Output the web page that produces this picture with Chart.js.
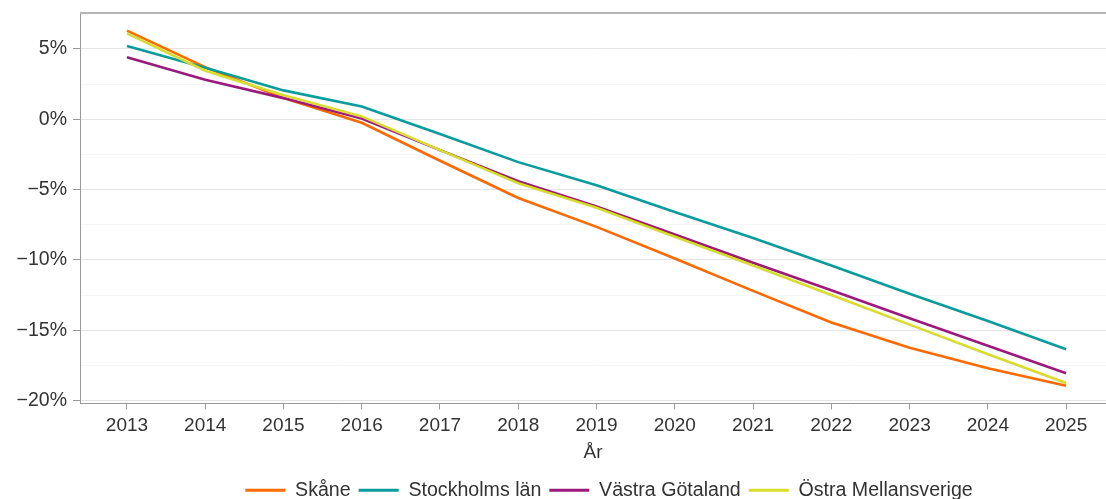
<!DOCTYPE html>
<html>
<head>
<meta charset="utf-8">
<script src="https://cdn.jsdelivr.net/npm/chart.js@4/dist/chart.umd.min.js"></script>
<style>
  html, body { margin: 0; padding: 0; background: #fff; }
  #wrap { position: relative; width: 1106px; height: 499px; }
</style>
</head>
<body>
<div id="wrap"><canvas id="c"></canvas></div>
<script>
  /* ---- data (percent) ---- */
  var years = [2013, 2014, 2015, 2016, 2017, 2018, 2019, 2020, 2021, 2022, 2023, 2024, 2025];
  var skane =     [6.3, 3.7, 1.5, -0.25, -2.95, -5.6, -7.65, -9.9, -12.2, -14.45, -16.25, -17.7, -18.95];
  var stockholm = [5.2, 3.65, 2.05, 0.9, -1.05, -3.05, -4.7, -6.6, -8.45, -10.4, -12.4, -14.35, -16.35];
  var vastra =    [4.4, 2.8, 1.5, 0.05, -2.2, -4.4, -6.2, -8.2, -10.2, -12.15, -14.15, -16.1, -18.05];
  var ostra =     [6.1, 3.45, 1.7, 0.2, -2.2, -4.55, -6.3, -8.35, -10.4, -12.5, -14.6, -16.7, -18.75];
  var seriesNames = ["Skåne", "Stockholms län", "Västra Götaland", "Östra Mellansverige"];
  var xTitle = "År";

  /* ---- style ---- */
  var COLORS = ["#ff6a00", "#0a9c9c", "#9b1a7c", "#d8dc2c"];
  var FONT = "'Liberation Sans', Arial, sans-serif";
  var TEXT = "#333333";
  var AXIS = "#9a9a9a";
  var GRID_MAJOR = "#e4e4e4";
  var GRID_MINOR = "#f6f6f6";

  function isMajor(v) { return Math.abs(v % 5) < 1e-9; }
  function pct(v) { return (v < 0 ? "\u2212" + Math.abs(v) : "" + v) + "%"; }

  var allSeries = [skane, stockholm, vastra, ostra];
  var datasets = allSeries.map(function (vals, i) {
    return {
      label: seriesNames[i],
      data: vals.map(function (v, j) { return { x: years[j], y: v }; }),
      borderColor: COLORS[i],
      backgroundColor: COLORS[i],
      borderWidth: 2.6,
      pointRadius: 0,
      tension: 0,
      order: allSeries.length - i   // later series drawn on top
    };
  });

  /* grey frame line along the top of the plot */
  var topFrame = {
    id: "topFrame",
    afterDatasetsDraw: function (chart) {
      var a = chart.chartArea, ctx = chart.ctx;
      ctx.save();
      ctx.strokeStyle = "#b5b5b5";
      ctx.lineWidth = 2;
      ctx.beginPath();
      ctx.moveTo(a.left, a.top);
      ctx.lineTo(a.right, a.top);
      ctx.stroke();
      ctx.restore();
    }
  };

  /* nudge the legend row to where the reference has it */
  var legendShift = {
    id: "legendShift",
    afterLayout: function (chart) {
      if (chart.legend) { chart.legend.left += 56; chart.legend.right += 56; }
    }
  };

  new Chart(document.getElementById("c").getContext("2d"), {
    type: "line",
    data: { datasets: datasets },
    plugins: [topFrame, legendShift],
    options: {
      responsive: true,
      maintainAspectRatio: false,
      animation: false,
      layout: { padding: { top: 13, right: 0, left: 0, bottom: -11 } },
      font: { family: FONT },
      plugins: {
        tooltip: { enabled: false },
        legend: {
          position: "bottom",
          labels: {
            color: TEXT,
            font: { family: FONT, size: 19.6 },
            boxWidth: 40,
            boxHeight: 3,
            padding: 8,
            sort: function (a, b) { return a.datasetIndex - b.datasetIndex; },
            generateLabels: function (chart) {
              var items = Chart.defaults.plugins.legend.labels.generateLabels(chart);
              items.forEach(function (it) { it.lineWidth = 0; it.fillStyle = it.strokeStyle; });
              return items;
            }
          }
        }
      },
      scales: {
        x: {
          type: "linear",
          min: 2012.4,
          max: 2025.51,
          afterFit: function (s) { s.height = 69; s.paddingLeft = 0; s.paddingRight = 0; },
          border: { color: AXIS, width: 1 },
          grid: { drawOnChartArea: false, drawTicks: true, tickLength: 6, tickColor: AXIS },
          ticks: {
            stepSize: 1,
            includeBounds: false,
            autoSkip: false,
            maxRotation: 0,
            padding: 5,
            color: TEXT,
            font: { family: FONT, size: 19 },
            callback: function (v) { return String(v); }
          },
          title: {
            display: true,
            text: xTitle,
            color: TEXT,
            font: { family: FONT, size: 19 },
            padding: { top: 0, bottom: 8 }
          }
        },
        y: {
          min: -20.2,
          max: 7.55,
          afterFit: function (s) { s.width = 80; s.paddingTop = 0; s.paddingBottom = 0; },
          border: { color: AXIS, width: 1 },
          grid: {
            color: function (c) { return c.tick && isMajor(c.tick.value) ? GRID_MAJOR : GRID_MINOR; },
            tickColor: function (c) { return c.tick && isMajor(c.tick.value) ? AXIS : "rgba(0,0,0,0)"; },
            tickLength: 7,
            lineWidth: 1
          },
          ticks: {
            stepSize: 2.5,
            includeBounds: false,
            autoSkip: false,
            padding: 6,
            color: TEXT,
            font: { family: FONT, size: 19.5 },
            callback: function (v) { return isMajor(v) ? pct(v) : ""; }
          }
        }
      }
    }
  });
</script>
</body>
</html>
